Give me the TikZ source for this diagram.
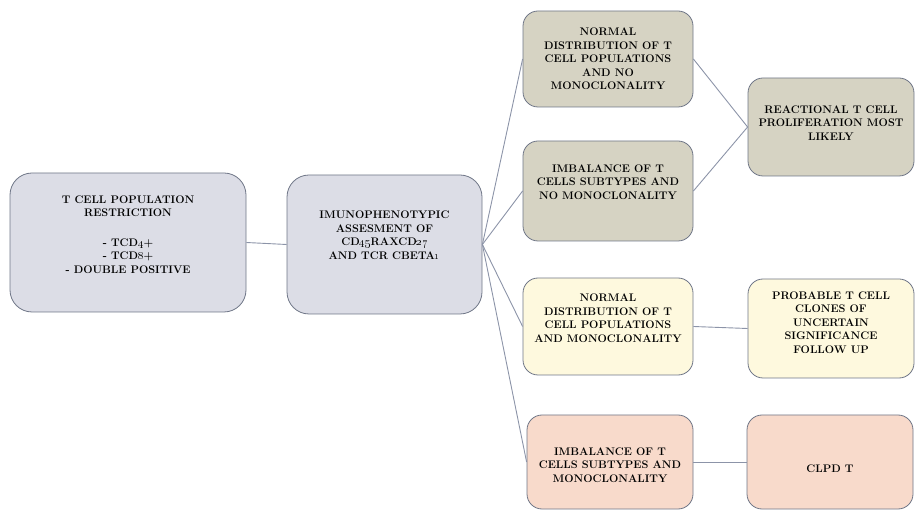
\documentclass[tikz,border=0pt]{standalone}
\definecolor{lav}{HTML}{DCDDE6}
\definecolor{khaki}{HTML}{D6D3C3}
\definecolor{cream}{HTML}{FEF9DE}
\definecolor{peach}{HTML}{F8DACB}
\definecolor{edge}{HTML}{6F7687}
\definecolor{wirec}{HTML}{8C94A8}
\newcommand{\lift}[2]{\raisebox{\dimexpr #1-3.7pt\relax}[0pt][0pt]{\begin{tabular}{@{}c@{}}#2\end{tabular}}}
\begin{document}
\begin{tikzpicture}[x=1pt,y=-1pt,
  box/.style={draw=edge, line width=0.8pt, rounded corners=15pt, inner sep=0pt,
    font=\fontsize{11}{13.5}\selectfont\bfseries, text=black},
  wire/.style={draw=wirec, line width=0.9pt}]
\useasboundingbox (0,0) rectangle (916,510);

\node[box, fill=lav, rounded corners=22pt, minimum width=236pt, minimum height=139pt] (restr) at (128,242.5)
  {\lift{8pt}{T CELL POPULATION\\RESTRICTION\\[16pt]- TCD\oldstylenums{4}+\\- TCD\oldstylenums{8}+\\- DOUBLE POSITIVE}};
\node[box, fill=lav, rounded corners=22pt, minimum width=195pt, minimum height=139pt] (assess) at (384.5,244.5)
  {\lift{9pt}{IMUNOPHENOTYPIC\\ASSESMENT OF\\CD\oldstylenums{45}RAXCD\oldstylenums{27}\\AND TCR CBETA\oldstylenums{1}}};

\node[box, fill=khaki, minimum width=170pt, minimum height=96pt] (normal) at (608,59)
  {\lift{0pt}{NORMAL\\DISTRIBUTION OF T\\CELL POPULATIONS\\AND NO\\MONOCLONALITY}};
\node[box, fill=khaki, minimum width=170pt, minimum height=100pt] (imbal) at (608,191)
  {\lift{9pt}{IMBALANCE OF T\\CELLS SUBTYPES AND\\NO MONOCLONALITY}};
\node[box, fill=cream, minimum width=170pt, minimum height=97pt] (normono) at (608,326.5)
  {\lift{8pt}{NORMAL\\DISTRIBUTION OF T\\CELL POPULATIONS\\AND MONOCLONALITY}};
\node[box, fill=peach, minimum width=166pt, minimum height=94pt] (imbmono) at (610,462)
  {\lift{-3pt}{IMBALANCE OF T\\CELLS SUBTYPES AND\\MONOCLONALITY}};

\node[box, fill=khaki, minimum width=166pt, minimum height=98pt] (react) at (831,127)
  {\lift{4pt}{REACTIONAL T CELL\\PROLIFERATION MOST\\LIKELY}};
\node[box, fill=cream, minimum width=166pt, minimum height=99pt] (clones) at (831,328.5)
  {\lift{6pt}{PROBABLE T CELL\\CLONES OF\\UNCERTAIN\\SIGNIFICANCE\\FOLLOW UP}};
\node[box, fill=peach, minimum width=166pt, minimum height=94pt] (clpd) at (830,462)
  {\lift{-7pt}{CLPD T}};

\draw[wire] (restr.east) -- (assess.west);
\foreach \n in {normal,imbal,normono,imbmono}
{
   \draw[wire] (assess.east) -- (\n.west);
}
\foreach \n in {normal,imbal}
{
   \draw[wire] (\n.east) -- (react.west);
}
\draw[wire] (normono.east) -- (clones.west);
\draw[wire] (imbmono.east) -- (clpd.west);

\end{tikzpicture}
\end{document}
